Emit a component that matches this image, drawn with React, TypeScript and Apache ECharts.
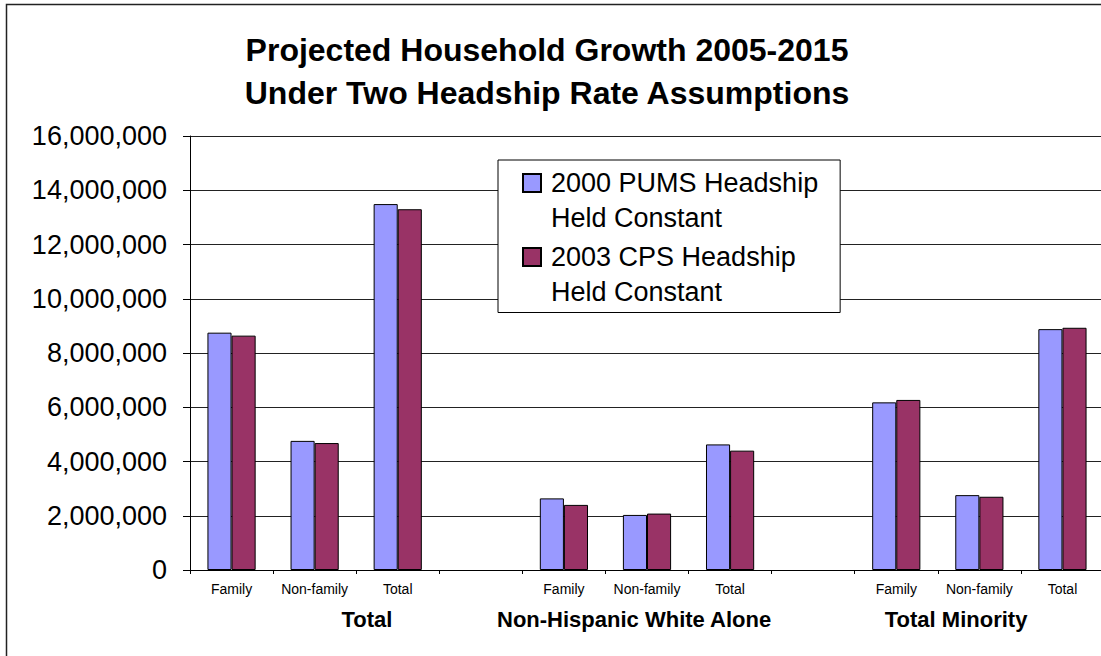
import React, { useEffect, useRef } from "react";
import * as echarts from "echarts";

const categories = ["Family", "Non-family", "Total", "", "Family", "Non-family", "Total", "", "Family", "Non-family", "Total"];
const groupNames = ["Total", "Non-Hispanic White Alone", "Total Minority"];
const seriesNames = ["2000 PUMS Headship\nHeld Constant", "2003 CPS Headship\nHeld Constant"];
const pumsValues = [8750000, 4760000, 13490000, null, 2640000, 2030000, 4630000, null, 6180000, 2760000, 8880000];
const cpsValues = [8640000, 4680000, 13300000, null, 2400000, 2080000, 4400000, null, 6270000, 2700000, 8930000];
const yTicks = { min: 0, max: 16000000, interval: 2000000 };

// layout: where group labels sit along the category axis (in category units)
const groupLabelPos = [2.13, 5.345, 9.22];

const FONT = "Arial, 'Liberation Sans', sans-serif";

export default function App() {
  const ref = useRef<HTMLDivElement>(null);
  useEffect(() => {
    if (!ref.current) return;
    const chart = echarts.init(ref.current, null, { renderer: "svg" });
    chart.setOption({
      animation: false,
      backgroundColor: "#fff",
      title: {
        text: "Projected Household Growth 2005-2015\nUnder Two Headship Rate Assumptions",
        left: 547,
        top: 28,
        padding: 0,
        textAlign: "center",
        textStyle: { fontFamily: FONT, fontSize: 32, fontWeight: "bold", lineHeight: 43, color: "#000" },
      },
      legend: {
        orient: "vertical",
        left: 498,
        top: 160,
        padding: [5.5, 22, 3, 24],
        itemGap: 4,
        itemWidth: 23,
        itemHeight: 53,
        icon: "path://M0,0L18,0L18,18L0,18Z M23,53",
        borderColor: "#000",
        borderWidth: 1,
        backgroundColor: "#fff",
        selectedMode: false,
        textStyle: { fontFamily: FONT, fontSize: 27, lineHeight: 35, color: "#000" },
        data: seriesNames,
      },
      grid: { left: 190, right: 16, top: 136, bottom: 86, containLabel: false },
      xAxis: [
        {
          type: "category",
          data: categories,
          position: "bottom",
          axisLine: { show: true, lineStyle: { color: "#000", width: 1 } },
          axisTick: { show: true, length: 4, lineStyle: { color: "#000" } },
          axisLabel: { interval: 0, fontFamily: FONT, fontSize: 14, color: "#000", margin: 12 },
          splitLine: { show: false },
        },
        {
          type: "value",
          position: "bottom",
          min: 0,
          max: 11,
          axisLine: { show: false },
          axisTick: { show: false },
          splitLine: { show: false },
          axisLabel: {
            customValues: groupLabelPos,
            formatter: (v: number) => {
              const i = groupLabelPos.findIndex((p) => Math.abs(p - v) < 1e-6);
              return i >= 0 ? groupNames[i] : "";
            },
            fontFamily: FONT,
            fontSize: 22,
            fontWeight: "bold",
            color: "#000",
            margin: 38,
          },
        },
      ],
      yAxis: {
        type: "value",
        min: yTicks.min,
        max: yTicks.max,
        interval: yTicks.interval,
        axisLine: { show: true, lineStyle: { color: "#000", width: 1 } },
        axisTick: { show: true, length: 7, inside: false, lineStyle: { color: "#000" } },
        axisLabel: {
          fontFamily: FONT,
          fontSize: 27,
          color: "#000",
          margin: 23,
          formatter: (v: number) => v.toLocaleString("en-US"),
        },
        splitLine: { show: true, lineStyle: { color: "#222", width: 1 } },
      },
      series: [
        {
          name: seriesNames[0],
          type: "bar",
          data: pumsValues,
          barGap: "0%",
          barCategoryGap: "42%",
          itemStyle: { color: "#9999FF", borderColor: "#000", borderWidth: 1 },
        },
        {
          name: seriesNames[1],
          type: "bar",
          data: cpsValues,
          barGap: "0%",
          barCategoryGap: "42%",
          itemStyle: { color: "#993366", borderColor: "#000", borderWidth: 1 },
        },
      ],
      graphic: [
        {
          type: "rect",
          silent: true,
          z: 100,
          shape: { x: 6.5, y: 4.5, width: 1300, height: 800 },
          style: { fill: "none", stroke: "#222", lineWidth: 1.5 },
        },
      ],
    });
    return () => chart.dispose();
  }, []);
  return (
    <div style={{ position: "fixed", left: 0, top: 0, width: 1101, height: 656, overflow: "hidden", background: "#fff" }}>
      <div ref={ref} style={{ width: 1120, height: 656 }} />
    </div>
  );
}
